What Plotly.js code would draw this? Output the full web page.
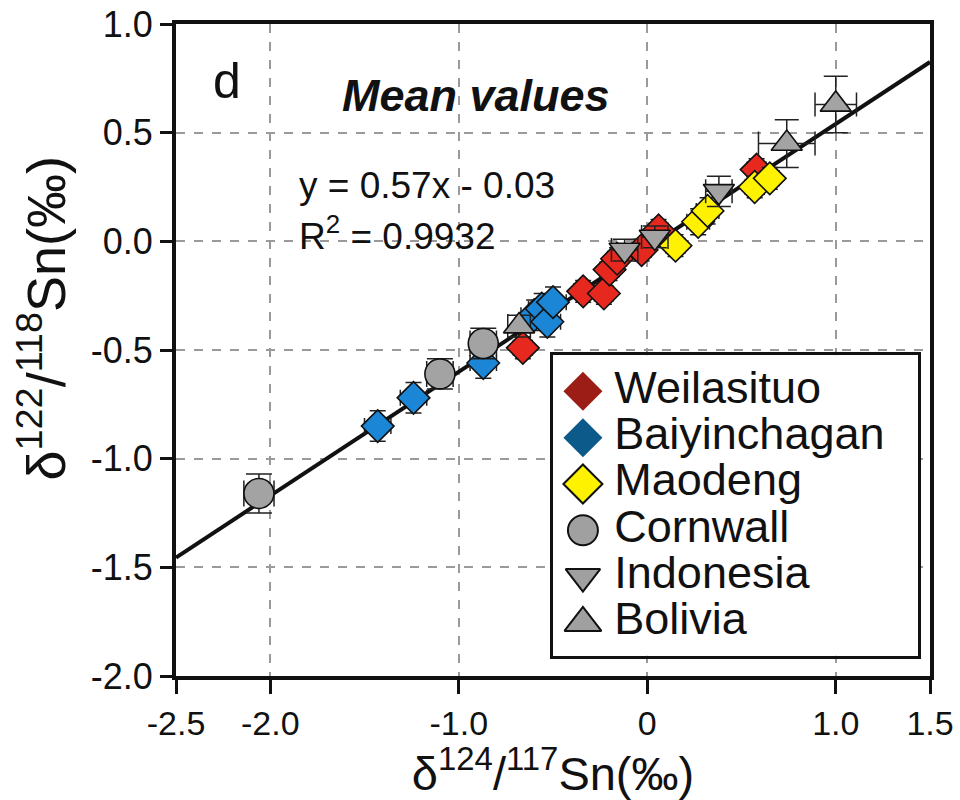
<!DOCTYPE html>
<html>
<head>
<meta charset="utf-8">
<script src="https://cdn.plot.ly/plotly-3.0.1.min.js"></script>
<style>html,body{margin:0;padding:0;background:#fff;}#chart{width:960px;height:800px;}</style>
</head>
<body>
<div id="chart"></div>
<script>
// ---- data ----
const categories = ["Weilasituo", "Baiyinchagan", "Maodeng", "Cornwall", "Indonesia", "Bolivia"];

const weilasituoX = [-0.66, -0.34, -0.23, -0.20, -0.16, -0.03, 0.06, 0.58];
const weilasituoY = [-0.49, -0.23, -0.24, -0.13, -0.08, -0.04, 0.05, 0.33];
const weilasituoErrX = [0.05, 0.05, 0.05, 0.05, 0.05, 0.05, 0.05, 0.05];
const weilasituoErrY = [0.05, 0.05, 0.05, 0.05, 0.05, 0.05, 0.05, 0.05];

const baiyinchaganX = [-1.43, -1.24, -0.87, -0.60, -0.56, -0.53, -0.50];
const baiyinchaganY = [-0.85, -0.72, -0.56, -0.34, -0.31, -0.37, -0.28];
const baiyinchaganErrX = [0.07, 0.07, 0.07, 0.07, 0.07, 0.07, 0.07];
const baiyinchaganErrY = [0.07, 0.07, 0.07, 0.07, 0.07, 0.07, 0.07];

const maodengX = [0.15, 0.27, 0.32, 0.57, 0.65];
const maodengY = [-0.02, 0.09, 0.14, 0.25, 0.29];
const maodengErrX = [0.05, 0.06, 0.06, 0.05, 0.05];
const maodengErrY = [0.05, 0.06, 0.06, 0.05, 0.05];

const cornwallX = [-2.06, -1.10, -0.87];
const cornwallY = [-1.16, -0.61, -0.47];
const cornwallErrX = [0.08, 0.07, 0.07];
const cornwallErrY = [0.09, 0.07, 0.07];

const indonesiaX = [-0.12, 0.04, 0.38];
const indonesiaY = [-0.04, 0.02, 0.23];
const indonesiaErrX = [0.07, 0.07, 0.07];
const indonesiaErrY = [0.05, 0.05, 0.07];

const boliviaX = [-0.68, 0.74, 1.00];
const boliviaY = [-0.39, 0.45, 0.63];
const boliviaErrX = [0.06, 0.15, 0.11];
const boliviaErrY = [0.05, 0.11, 0.13];

// regression y = 0.57x - 0.03
const fitSlope = 0.57;
const fitIntercept = -0.03;
const fitRange = [-2.5, 1.5];

const xTickVals = [-2.5, -2.0, -1.0, 0, 1.0, 1.5];
const xTickText = ["-2.5", "-2.0", "-1.0", "0", "1.0", "1.5"];
const yTickVals = [-2.0, -1.5, -1.0, -0.5, 0.0, 0.5, 1.0];
const yTickText = ["-2.0", "-1.5", "-1.0", "-0.5", "0.0", "0.5", "1.0"];

// ---- styles ----
const FONT = "Arial, 'Liberation Sans', sans-serif";
const plotColors = ["#e6281e", "#1b86d6", "#fff200", "#a3a3a3", "#a3a3a3", "#a3a3a3"];
const legendColors = ["#9b1d16", "#0c5a8a", "#fff200", "#a0a0a0", "#a0a0a0", "#a0a0a0"];
const legendLine = [0, 0, 2, 2, 2, 2];
const symbols = ["diamond", "diamond", "diamond", "circle", "triangle-down", "triangle-up"];
const sizes = [25, 25, 25, 30, 27, 27];
const capW = [8, 8, 8, 13, 12, 12];

const series = [
  [weilasituoX, weilasituoY, weilasituoErrX, weilasituoErrY],
  [baiyinchaganX, baiyinchaganY, baiyinchaganErrX, baiyinchaganErrY],
  [maodengX, maodengY, maodengErrX, maodengErrY],
  [cornwallX, cornwallY, cornwallErrX, cornwallErrY],
  [indonesiaX, indonesiaY, indonesiaErrX, indonesiaErrY],
  [boliviaX, boliviaY, boliviaErrX, boliviaErrY]
];

const traces = [];
// regression line
traces.push({
  x: fitRange,
  y: fitRange.map(v => fitSlope * v + fitIntercept),
  mode: "lines",
  line: {color: "#111", width: 4},
  showlegend: false, hoverinfo: "skip"
});

const order = [1, 0, 2, 3, 4, 5];
order.forEach(i => {
  const s = series[i];
  traces.push({
    x: s[0], y: s[1],
    name: categories[i],
    mode: "markers",
    type: "scatter",
    marker: {symbol: symbols[i], size: sizes[i], opacity: 1, color: plotColors[i], line: {color: "#111", width: 1.6}},
    error_x: {type: "data", array: s[2], visible: true, color: "#222", thickness: 1.5, width: capW[i]},
    error_y: {type: "data", array: s[3], visible: true, color: "#222", thickness: 1.5, width: capW[i]},
    showlegend: false
  });
});

// manual legend (large symbols) in its own small subplot
const legendIdx = categories.map((c, i) => i);
traces.push({
  x: legendIdx.map(() => 0.082),
  y: legendIdx,
  xaxis: "x2", yaxis: "y2",
  mode: "markers",
  marker: {
    symbol: symbols,
    size: [30, 30, 30, 30, 30, 32],
    opacity: 1,
    color: legendColors,
    line: {color: "#111", width: legendLine}
  },
  showlegend: false, hoverinfo: "skip"
});
traces.push({
  x: legendIdx.map(() => 0.168),
  y: legendIdx,
  xaxis: "x2", yaxis: "y2",
  mode: "text",
  text: categories,
  textposition: "middle right",
  textfont: {family: FONT, size: 45, color: "#111"},
  showlegend: false, hoverinfo: "skip"
});

const layout = {
  width: 960, height: 800,
  margin: {l: 176, r: 30, t: 24, b: 124},
  paper_bgcolor: "#fff", plot_bgcolor: "#fff",
  font: {family: FONT, color: "#111"},
  showlegend: false,
  xaxis: {
    range: [-2.5, 1.5],
    tickvals: xTickVals, ticktext: xTickText,
    ticks: "outside", ticklen: 14, tickwidth: 3, tickcolor: "#111",
    tickfont: {family: FONT, size: 34, color: "#111"},
    showline: true, linewidth: 4, linecolor: "#111", mirror: true,
    showgrid: true, gridcolor: "#9a9a9a", griddash: "dash", gridwidth: 2,
    zeroline: false,
    title: {text: "δ<sup>124</sup>/<sup>117</sup>Sn(‰)", font: {family: FONT, size: 47, color: "#111"}, standoff: 4}
  },
  yaxis: {
    range: [-2.0, 1.0],
    tickvals: yTickVals, ticktext: yTickText,
    ticks: "outside", ticklen: 12, tickwidth: 3, tickcolor: "#111",
    tickfont: {family: FONT, size: 36, color: "#111"},
    showline: true, linewidth: 4, linecolor: "#111", mirror: true,
    showgrid: true, gridcolor: "#9a9a9a", griddash: "dash", gridwidth: 2,
    zeroline: false
  },
  xaxis2: {
    domain: [0.5, 0.984], anchor: "y2", range: [0, 1],
    showline: true, mirror: true, linewidth: 3, linecolor: "#111",
    showgrid: false, zeroline: false, showticklabels: false, ticks: ""
  },
  yaxis2: {
    domain: [0.031, 0.492], anchor: "x2", range: [5.71, -0.78],
    showline: true, mirror: true, linewidth: 3, linecolor: "#111",
    showgrid: false, zeroline: false, showticklabels: false, ticks: ""
  },
  annotations: [
    {x: -0.178, y: 0.548, xref: "paper", yref: "paper", xanchor: "center", yanchor: "middle", textangle: -90,
     text: "δ<sup>122</sup>/<sup>118</sup>Sn(‰)", showarrow: false,
     font: {family: FONT, size: 54, color: "#111"}},
    {x: -2.23, y: 0.74, xref: "x", yref: "y", text: "d", showarrow: false,
     font: {family: FONT, size: 50, color: "#111"}},
    {x: -0.91, y: 0.67, xref: "x", yref: "y", text: "<b><i>Mean values</i></b>", showarrow: false,
     font: {family: FONT, size: 45, color: "#111"}},
    {x: -1.86, y: 0.256, xref: "x", yref: "y", xanchor: "left", text: "y = 0.57x - 0.03", showarrow: false,
     font: {family: FONT, size: 37, color: "#111"}},
    {x: -1.86, y: 0.035, xref: "x", yref: "y", xanchor: "left", text: "R<sup>2</sup> = 0.9932", showarrow: false,
     font: {family: FONT, size: 37, color: "#111"}}
  ]
};

Plotly.newPlot("chart", traces, layout, {displayModeBar: false, staticPlot: true});
</script>
</body>
</html>
